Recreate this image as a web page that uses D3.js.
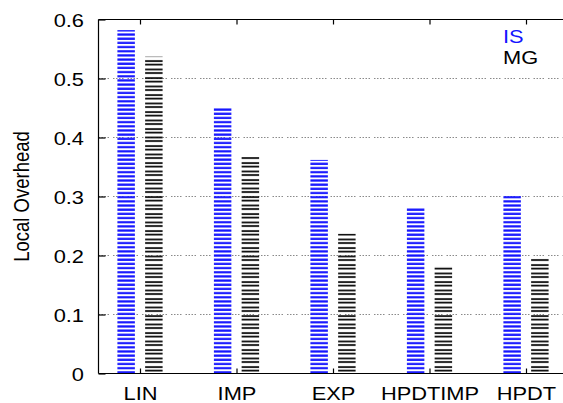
<!DOCTYPE html>
<html>
<head>
<meta charset="utf-8">
<script src="https://cdn.jsdelivr.net/npm/d3@7"></script>
<style>
html,body{margin:0;padding:0;background:#fff;}
svg{display:block;}
text{font-family:"Liberation Sans",Arial,Helvetica,sans-serif;}
</style>
</head>
<body>
<svg id="chart" width="563" height="403"></svg>
<script>
const categories = ["LIN", "IMP", "EXP", "HPDTIMP", "HPDT"];
const seriesNames = ["IS", "MG"];
const isValues = [0.582, 0.451, 0.362, 0.281, 0.301];
const mgValues = [0.537, 0.367, 0.237, 0.181, 0.195];
const yTicks = [0, 0.1, 0.2, 0.3, 0.4, 0.5, 0.6];
const yTickLabels = ["0", "0.1", "0.2", "0.3", "0.4", "0.5", "0.6"];
const yLabel = "Local Overhead";
const seriesColors = ["#1414ff", "#000000"];

const W = 563, H = 403;
const plot = {left: 98.5, right: 563, top: 19.5, bottom: 373.5};
const svg = d3.select("#chart");
const SX = 1.18; // horizontal text stretch

const y = d3.scaleLinear().domain([0, 0.6]).range([plot.bottom, plot.top]);
const x = d3.scaleLinear().domain([0, categories.length - 1]).range([140, 526]);
const xSub = d3.scaleBand().domain(seriesNames).range([-22.6, 22.6]).paddingInner(0.37);

// patterns
const defs = svg.append("defs");
const pIS = defs.append("pattern").attr("id", "patIS").attr("patternUnits", "userSpaceOnUse")
  .attr("x", 0).attr("y", plot.bottom).attr("width", 10).attr("height", 4.17);
pIS.append("rect").attr("x", 0).attr("y", 1.9).attr("width", 10).attr("height", 2.2).attr("fill", seriesColors[0]);
const pMG = defs.append("pattern").attr("id", "patMG").attr("patternUnits", "userSpaceOnUse")
  .attr("x", 0).attr("y", plot.bottom).attr("width", 10).attr("height", 8.5);
pMG.append("rect").attr("x", 0).attr("y", 1.2).attr("width", 10).attr("height", 1.7).attr("fill", seriesColors[1]);
pMG.append("rect").attr("x", 0).attr("y", 4.7).attr("width", 10).attr("height", 1.7).attr("fill", seriesColors[1]);

// grid
svg.append("g").selectAll("line").data(yTicks.filter(t => t > 0 && t < 0.6)).join("line")
  .attr("x1", plot.left).attr("x2", plot.right)
  .attr("y1", d => y(d)).attr("y2", d => y(d))
  .attr("stroke", "#8a8a8a").attr("stroke-width", 1)
  .attr("stroke-dasharray", "1.5,1.5,1.5,1.5,1.5,1.5,1.5,4");

// bars
const rows = categories.map((c, i) => ({c, i, vals: [isValues[i], mgValues[i]]}));
const fills = ["url(#patIS)", "url(#patMG)"];
seriesNames.forEach((s, si) => {
  svg.append("g").selectAll("rect").data(rows).join("rect")
    .attr("x", d => x(d.i) + xSub(s))
    .attr("width", xSub.bandwidth())
    .attr("y", d => y(d.vals[si]))
    .attr("height", d => y(0) - y(d.vals[si]))
    .attr("fill", fills[si]);
});

// borders
const border = svg.append("g").attr("stroke", "#000").attr("stroke-width", 1.2).attr("fill", "none");
border.append("line").attr("x1", plot.left).attr("x2", plot.left).attr("y1", plot.top).attr("y2", plot.bottom);
border.append("line").attr("x1", plot.left).attr("x2", plot.right).attr("y1", plot.top).attr("y2", plot.top);
border.append("line").attr("x1", plot.left).attr("x2", plot.right).attr("y1", plot.bottom).attr("y2", plot.bottom);

// y ticks
const yAxis = d3.axisLeft(y).tickValues(yTicks).tickSizeInner(-7).tickSizeOuter(0).tickFormat((d, i) => yTickLabels[i]);
const gy = svg.append("g").attr("transform", `translate(${plot.left},0)`).call(yAxis);
gy.select(".domain").remove();
gy.selectAll(".tick line").attr("stroke", "#000").attr("stroke-width", 1.2);
gy.selectAll(".tick text").attr("font-size", 18.5).attr("fill", "#000")
  .attr("font-family", "Liberation Sans, Arial, sans-serif")
  .attr("x", 0).attr("dy", "0.36em").attr("text-anchor", "end")
  .attr("transform", `translate(-14.5,0) scale(${SX},1)`);

// x ticks bottom
const xAxis = d3.axisBottom(x).tickValues(d3.range(categories.length)).tickSizeInner(-5).tickSizeOuter(0)
  .tickFormat(i => categories[i]);
const gx = svg.append("g").attr("transform", `translate(0,${plot.bottom})`).call(xAxis);
gx.select(".domain").remove();
gx.selectAll(".tick line").attr("stroke", "#000").attr("stroke-width", 1.2);
gx.selectAll(".tick text").attr("font-size", 18.5).attr("fill", "#000")
  .attr("font-family", "Liberation Sans, Arial, sans-serif")
  .attr("y", 0).attr("dy", 0)
  .attr("transform", `translate(0,26.5) scale(${SX},1)`);

// x ticks top (mirror)
const xTop = d3.axisTop(x).tickValues(d3.range(categories.length)).tickSizeInner(-5).tickSizeOuter(0).tickFormat("");
const gxt = svg.append("g").attr("transform", `translate(0,${plot.top})`).call(xTop);
gxt.select(".domain").remove();
gxt.selectAll(".tick line").attr("stroke", "#000").attr("stroke-width", 1.2);

// y label
svg.append("text")
  .attr("transform", `translate(29,${(plot.top + plot.bottom) / 2}) scale(${SX},1) rotate(-90)`)
  .attr("text-anchor", "middle").attr("font-size", 18.5).attr("fill", "#000")
  .text(yLabel);

// legend
seriesNames.forEach((s, si) => {
  svg.append("text")
    .attr("transform", `translate(503,${43 + si * 21}) scale(${SX},1)`)
    .attr("font-size", 18.5).attr("fill", seriesColors[si])
    .text(s);
});
</script>
</body>
</html>
